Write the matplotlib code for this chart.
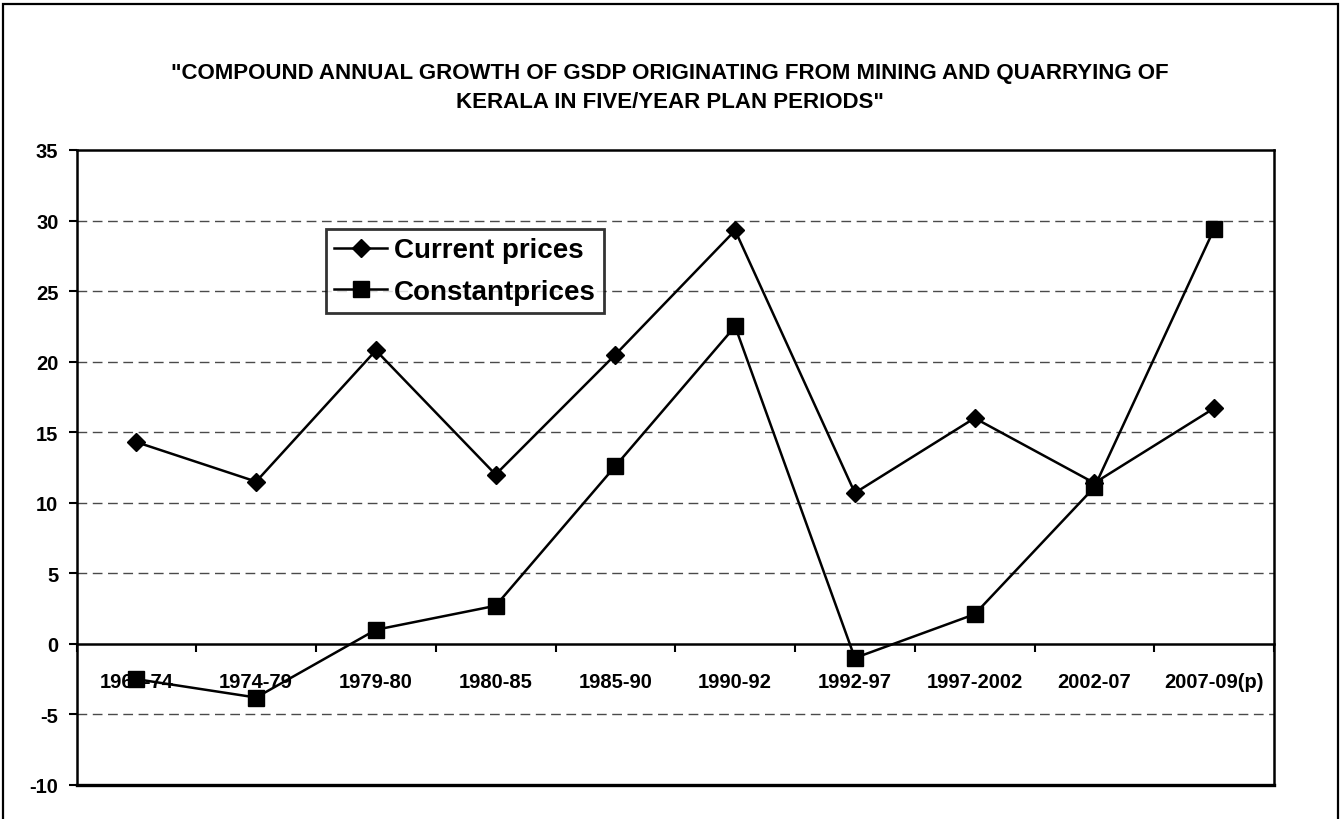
import matplotlib
matplotlib.use("Agg")
import matplotlib.pyplot as plt
from matplotlib.patches import Rectangle
import numpy as np

plt.rcParams['font.family'] = ['Liberation Sans', 'DejaVu Sans']
plt.rcParams['font.weight'] = 'bold'

categories = ["1969-74", "1974-79", "1979-80", "1980-85", "1985-90",
              "1990-92", "1992-97", "1997-2002", "2002-07", "2007-09(p)"]
current_prices = [14.3, 11.5, 20.8, 12.0, 20.5, 29.3, 10.7, 16.0, 11.4, 16.7]
constant_prices = [-2.5, -3.8, 1.0, 2.7, 12.6, 22.5, -1.0, 2.1, 11.1, 29.4]
y_ticks = [-10, -5, 0, 5, 10, 15, 20, 25, 30, 35]
title = ('"COMPOUND ANNUAL GROWTH OF GSDP ORIGINATING FROM MINING AND QUARRYING OF\n'
         'KERALA IN FIVE/YEAR PLAN PERIODS"')

W, H = 1344, 820
fig = plt.figure(figsize=(W / 100, H / 100), dpi=100)
fig.patch.set_facecolor('white')

# outer chart border
fig.patches.append(Rectangle((3 / W, -0.02), (1338 - 3) / W, 1.02 - 5 / H,
                             transform=fig.transFigure, fill=False,
                             edgecolor='black', linewidth=1.6))

ax = fig.add_axes([76.5 / W, 1 - 786 / H, (1274 - 76.5) / W, (786 - 151) / H])
x = np.arange(len(categories))

ax.set_xlim(-0.5, len(categories) - 0.5)
ax.set_ylim(-10, 35)

# gridlines (dashed) except at bounds and zero
for v in y_ticks:
    if v in (-10, 0, 35):
        continue
    ax.axhline(v, color='#4a4a4a', linewidth=1.0, dashes=(7, 4), zorder=1)

ax.plot(x, current_prices, color='black', linewidth=1.8, marker='D',
        markersize=9.5, label='Current prices', zorder=3)
ax.plot(x, constant_prices, color='black', linewidth=1.8, marker='s',
        markersize=11.5, label='Constantprices', zorder=3)

for s in ax.spines.values():
    s.set_linewidth(1.8)
    s.set_color('black')
ax.spines['bottom'].set_position(('data', 0))
ax.axhline(-10, color='black', linewidth=2.4, clip_on=False, zorder=2)

ax.set_yticks(y_ticks)
ax.set_yticklabels([str(v) for v in y_ticks], fontsize=14.5, fontweight='bold')
ax.tick_params(axis='y', direction='out', length=6, width=1.5, pad=7)

ax.set_xticks(x)
ax.set_xticklabels(categories, fontsize=14.5, fontweight='bold')
ax.set_xticks(np.arange(-0.5, len(categories)), minor=True)
ax.tick_params(axis='x', which='major', length=0, pad=20)
ax.tick_params(axis='x', which='minor', direction='out', length=6, width=1.5)

leg = ax.legend(loc='upper left', bbox_to_anchor=(326 / W, 1 - 230 / H),
                bbox_transform=fig.transFigure, frameon=True, fancybox=False,
                prop={'size': 20, 'weight': 'bold'}, handlelength=1.9,
                borderpad=0.3, labelspacing=0.55, handletextpad=0.25,
                borderaxespad=0)
leg.get_frame().set_edgecolor('black')
leg.get_frame().set_linewidth(2.0)

fig.text(670 / W, 1 - 88 / H, title, ha='center', va='center',
         fontsize=16, fontweight='bold', linespacing=1.55)

fig.savefig('out.png', dpi=100, facecolor='white')
